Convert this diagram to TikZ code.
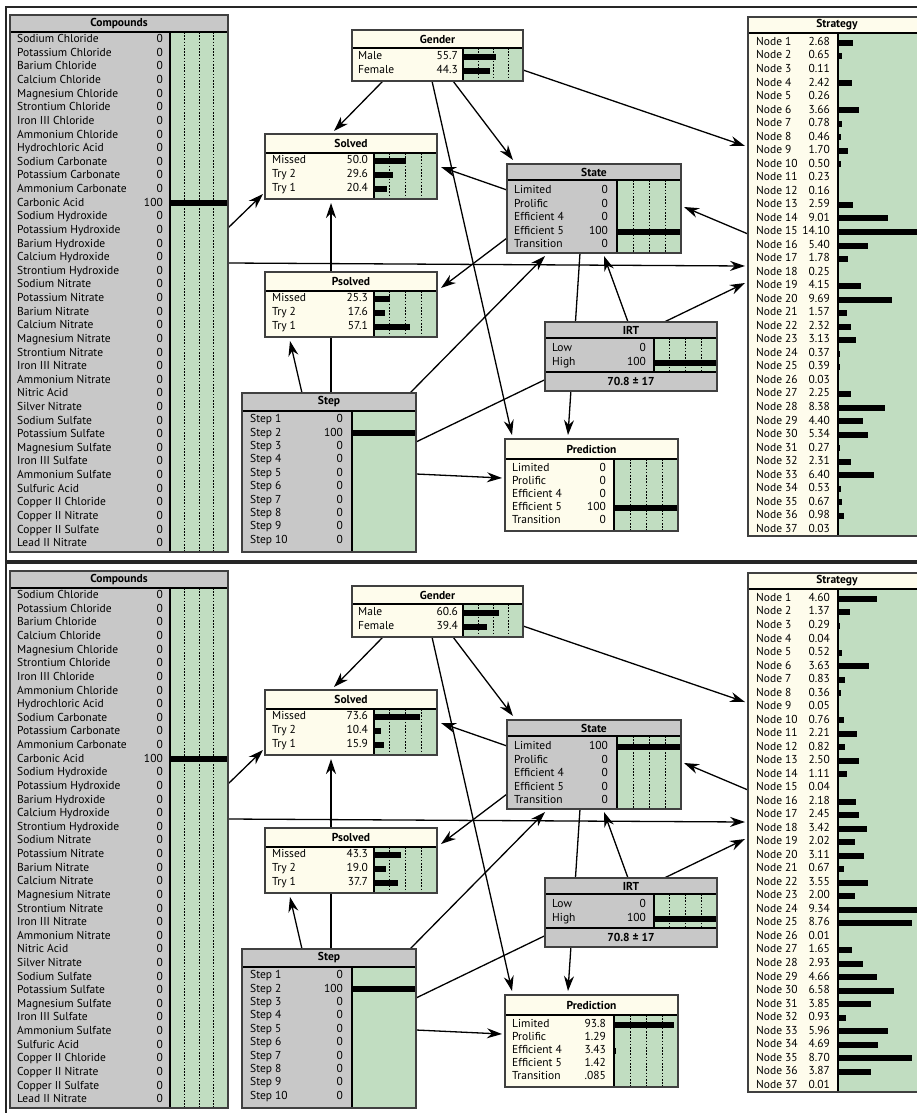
\documentclass[tikz,border=0pt]{standalone}
\usepackage{fontspec}
\setmainfont{PT Sans}
\usetikzlibrary{arrows.meta}
\definecolor{grn}{RGB}{193,221,193}
\definecolor{gry}{RGB}{200,200,200}
\definecolor{crm}{RGB}{254,252,236}
\tikzset{
  bx/.style={draw=black!75, line width=1.1pt, inner sep=0pt, outer sep=0pt},
  lbl/.style={anchor=west, inner sep=0pt, font=\fontsize{11.5}{12}\selectfont, text height=7.8pt, text depth=2.3pt},
  val/.style={anchor=east, inner sep=0pt, font=\fontsize{11.5}{12}\selectfont, text height=7.8pt, text depth=2.3pt},
  ttl/.style={inner sep=0pt, font=\fontsize{11.5}{12}\selectfont\bfseries},
  edge/.style={line width=1.3pt, -{Stealth[length=15pt,width=10pt]}},
  dsh/.style={line width=0.7pt, dash pattern=on 1.6pt off 1.6pt},
  frame/.style={draw=black!85, line width=2pt},
}
% #1 name #2 x1 #3 y1 #4 x2 #5 y2 #6 header bottom #7 green left #8 fill #9 title
\newcommand\bnbox[9]{%
  \node[bx, fill=#8, minimum width={#4pt-#2pt}, minimum height={#5pt-#3pt}, anchor=north west] (#1) at (#2,#3) {};
  \fill[grn] (#7,#6) rectangle (#4,#5);
  \node[ttl] at ({(#2+#4)/2},{(#3+#6)/2}) {#9};
}
% green left, green right, top, bottom
\newcommand\bndash[4]{%
  \foreach \k in {1,2,3} {\draw[dsh] ({#1+\k*(#2-#1)/4},#3) -- ({#1+\k*(#2-#1)/4},#4);}
}
% #1 label x #2 value x #3 green x #4 scale #5 y0 #6 spacing #7 list
\newcommand\bnrows[7]{%
  \edef\bnlist{#7}%
  \foreach \l/\v/\f [count=\i from 0] in \bnlist {%
    \pgfmathsetmacro\yy{#5+\i*#6}
    \node[lbl] at (#1,\yy) {\l};
    \node[val] at (#2,\yy) {\v};
    \ifdim \f pt>0pt
      \pgfmathsetmacro\bl{max(\f*#4,1)}
      \fill (#3,\yy-3) rectangle ({#3+\bl},\yy+3);
    \fi
  }
}
% #1 name #2 x1 #3 x2 #4 header bottom #5 green left #6 y2
\newcommand\bnfin[6]{%
  \draw[line width=1.4pt] (#5,#4) -- (#5,#6);
  \draw[line width=1.8pt] (#2,#4) -- (#3,#4);
  \draw[bx] (#1.north west) rectangle (#1.south east);
}
% #1 scale #2 values
\newcommand\stratrows[2]{%
  \foreach \v [count=\i] in {#2} {%
    \pgfmathsetmacro\yy{42.7+(\i-1)*13.52}
    \node[lbl] at (756,\yy) {Node \i};
    \node[val] at (830,\yy) {\v};
    \pgfmathsetmacro\bl{\v*#1}
    \ifdim \bl pt>0.3pt
      \pgfmathsetmacro\bl{max(\bl,1)}
      \fill (838,\yy-3) rectangle ({838+\bl},\yy+3);
    \fi
  }
}
\newcommand\compoundlist{Sodium Chloride/0/0, Potassium Chloride/0/0, Barium Chloride/0/0, Calcium Chloride/0/0, Magnesium Chloride/0/0, Strontium Chloride/0/0, Iron III Chloride/0/0, Ammonium Chloride/0/0, Hydrochloric Acid/0/0, Sodium Carbonate/0/0, Potassium Carbonate/0/0, Ammonium Carbonate/0/0, Carbonic Acid/100/1, Sodium Hydroxide/0/0, Potassium Hydroxide/0/0, Barium Hydroxide/0/0, Calcium Hydroxide/0/0, Strontium Hydroxide/0/0, Sodium Nitrate/0/0, Potassium Nitrate/0/0, Barium Nitrate/0/0, Calcium Nitrate/0/0, Magnesium Nitrate/0/0, Strontium Nitrate/0/0, Iron III Nitrate/0/0, Ammonium Nitrate/0/0, Nitric Acid/0/0, Silver Nitrate/0/0, Sodium Sulfate/0/0, Potassium Sulfate/0/0, Magnesium Sulfate/0/0, Iron III Sulfate/0/0, Ammonium Sulfate/0/0, Sulfuric Acid/0/0, Copper II Chloride/0/0, Copper II Nitrate/0/0, Copper II Sulfate/0/0, Lead II Nitrate/0/0}
\newcommand\steplist{Step 1/0/0, Step 2/100/1, Step 3/0/0, Step 4/0/0, Step 5/0/0, Step 6/0/0, Step 7/0/0, Step 8/0/0, Step 9/0/0, Step 10/0/0}
% #1 prefix #2 gender #3 solved #4 state #5 psolved #6 prediction #7 strategy values #8 strategy scale
\newcommand\drawpanel[8]{%
  \draw[frame] (6,7) rectangle (960,561);
  \bnbox{#1-compounds}{10}{15}{228}{552}{32}{170}{gry}{Compounds}
  \bnbox{#1-gender}{352}{30}{523}{81}{48}{463}{crm}{Gender}
  \bnbox{#1-solved}{265}{134}{437}{199}{153}{374}{crm}{Solved}
  \bnbox{#1-state}{507}{164}{681}{253}{180}{617}{gry}{State}
  \bnbox{#1-strategy}{748}{17}{926}{536}{33}{838}{crm}{Strategy}
  % connector end points on the boxes
  \coordinate (#1-gender-o1) at (383,81);  \coordinate (#1-solved-i1) at (334,131);
  \coordinate (#1-gender-o2) at (453,81);  \coordinate (#1-state-i1) at (513,160);
  \coordinate (#1-gender-o3) at (432,81);  \coordinate (#1-pred-i1) at (512,435);
  \coordinate (#1-gender-o4) at (523,70);  \coordinate (#1-strategy-i1) at (745,146);
  \coordinate (#1-state-o1) at (507,190);  \coordinate (#1-solved-i2) at (441,167);
  \coordinate (#1-state-o2) at (507,238);  \coordinate (#1-psolved-i1) at (441,288);
  \coordinate (#1-strategy-o1) at (748,234); \coordinate (#1-state-i2) at (684,207);
  \coordinate (#1-compounds-o1) at (228,228); \coordinate (#1-solved-i3) at (263,194);
  \coordinate (#1-compounds-o2) at (228,263); \coordinate (#1-strategy-i2) at (745,266);
  \coordinate (#1-step-o1) at (331,393);   \coordinate (#1-solved-i4) at (331,203);
  \coordinate (#1-step-o2) at (302,393);   \coordinate (#1-psolved-i2) at (290,341);
  \coordinate (#1-step-o3) at (410,393);   \coordinate (#1-state-i3) at (545,256);
  \coordinate (#1-irt-o1) at (628,322);    \coordinate (#1-state-i4) at (604,256);
  \coordinate (#1-state-o3) at (580,253);  \coordinate (#1-pred-i2) at (568,435);
  \coordinate (#1-step-o4) at (416,442);   \coordinate (#1-strategy-i3) at (745,283);
  \coordinate (#1-step-o5) at (416,474);   \coordinate (#1-pred-i3) at (502,478);
  % connectors
  \draw[edge] (#1-gender-o1) -- (#1-solved-i1);
  \draw[edge] (#1-gender-o2) -- (#1-state-i1);
  \draw[edge] (#1-gender-o3) -- (#1-pred-i1);
  \draw[edge] (#1-gender-o4) -- (#1-strategy-i1);
  \draw[edge] (#1-state-o1) -- (#1-solved-i2);
  \draw[edge] (#1-state-o2) -- (#1-psolved-i1);
  \draw[edge] (#1-strategy-o1) -- (#1-state-i2);
  \draw[edge] (#1-compounds-o1) -- (#1-solved-i3);
  \draw[edge] (#1-compounds-o2) -- (#1-strategy-i2);
  \draw[edge] (#1-step-o1) -- (#1-solved-i4);
  \draw[edge] (#1-step-o2) -- (#1-psolved-i2);
  \draw[edge] (#1-step-o3) -- (#1-state-i3);
  \draw[edge] (#1-irt-o1) -- (#1-state-i4);
  \draw[edge] (#1-state-o3) -- (#1-pred-i2);
  \draw[edge] (#1-step-o4) -- (#1-strategy-i3);
  \draw[edge] (#1-step-o5) -- (#1-pred-i3);
  % Compounds
  \bndash{170}{228}{32}{552}
  \bnrows{17}{163}{170}{58}{40}{13.62}{\compoundlist}
  \bnfin{#1-compounds}{10}{228}{32}{170}{552}
  % Gender
  \bndash{463}{523}{48}{81}
  \bnrows{358}{458}{463}{60}{57}{14}{#2}
  \bnfin{#1-gender}{352}{523}{48}{463}{81}
  % Solved
  \bndash{374}{437}{153}{199}
  \bnrows{272}{368}{374}{63}{161}{14}{#3}
  \bnfin{#1-solved}{265}{437}{153}{374}{199}
  % State
  \bndash{617}{681}{180}{253}
  \bnrows{514}{608}{617}{64}{191}{13.5}{#4}
  \bnfin{#1-state}{507}{681}{180}{617}{253}
  % Psolved
  \bnbox{#1-psolved}{265}{272}{437}{337}{291}{374}{crm}{Psolved}
  \bndash{374}{437}{291}{337}
  \bnrows{272}{368}{374}{63}{299}{14}{#5}
  \bnfin{#1-psolved}{265}{437}{291}{374}{337}
  % IRT
  \node[bx, fill=gry, minimum width=172pt, minimum height=69pt, anchor=north west] (#1-irt) at (545,322) {};
  \fill[grn] (654,338) rectangle (717,372);
  \bndash{654}{717}{338}{372}
  \bnrows{552}{646}{654}{63}{349}{14}{Low/0/0, High/100/1}
  \draw[line width=1.4pt] (654,338) -- (654,372);
  \draw[line width=1.8pt] (545,338) -- (717,338);
  \draw[line width=1.8pt] (545,372) -- (717,372);
  \node[ttl] at (631,330) {IRT};
  \node[ttl] at (631,381) {70.8 ± 17};
  \draw[bx] (#1-irt.north west) rectangle (#1-irt.south east);
  % Step
  \bnbox{#1-step}{242}{393}{416}{552}{411}{352}{gry}{Step}
  \bnrows{250}{343}{352}{64}{420}{13.4}{\steplist}
  \bnfin{#1-step}{242}{416}{411}{352}{552}
  % Prediction
  \bnbox{#1-pred}{505}{439}{678}{531}{459}{614}{crm}{Prediction}
  \bndash{614}{678}{459}{531}
  \bnrows{512}{606}{614}{64}{469}{13}{#6}
  \bnfin{#1-pred}{505}{678}{459}{614}{531}
  % Strategy
  \stratrows{#8}{#7}
  \bnfin{#1-strategy}{748}{926}{33}{838}{536}
}
\begin{document}
\begin{tikzpicture}[x=1pt,y=-1pt]
\useasboundingbox (0,0) rectangle (917,1113);
\clip (0,0) rectangle (917,1113);
\fill[white] (0,0) rectangle (917,1113);
\drawpanel{a}{Male/55.7/0.557, Female/44.3/0.443}{Missed/50.0/0.5, Try 2/29.6/0.296, Try 1/20.4/0.204}{Limited/0/0, Prolific/0/0, Efficient 4/0/0, Efficient 5/100/1, Transition/0/0}{Missed/25.3/0.253, Try 2/17.6/0.176, Try 1/57.1/0.571}{Limited/0/0, Prolific/0/0, Efficient 4/0/0, Efficient 5/100/1, Transition/0/0}{2.68,0.65,0.11,2.42,0.26,3.66,0.78,0.46,1.70,0.50,0.23,0.16,2.59,9.01,14.10,5.40,1.78,0.25,4.15,9.69,1.57,2.32,3.13,0.37,0.39,0.03,2.25,8.38,4.40,5.34,0.27,2.31,6.40,0.53,0.67,0.98,0.03}{5.603}
\begin{scope}[shift={(0,556)}]
\drawpanel{b}{Male/60.6/0.606, Female/39.4/0.394}{Missed/73.6/0.736, Try 2/10.4/0.104, Try 1/15.9/0.159}{Limited/100/1, Prolific/0/0, Efficient 4/0/0, Efficient 5/0/0, Transition/0/0}{Missed/43.3/0.433, Try 2/19.0/0.19, Try 1/37.7/0.377}{Limited/93.8/0.938, Prolific/1.29/0.0129, Efficient 4/3.43/0.0343, Efficient 5/1.42/0.0142, Transition/.085/0.00085}{4.60,1.37,0.29,0.04,0.52,3.63,0.83,0.36,0.05,0.76,2.21,0.82,2.50,1.11,0.04,2.18,2.45,3.42,2.02,3.11,0.67,3.55,2.00,9.34,8.76,0.01,1.65,2.93,4.66,6.58,3.85,0.93,5.96,4.69,8.70,3.87,0.01}{8.458}
\end{scope}
\end{tikzpicture}
\end{document}
